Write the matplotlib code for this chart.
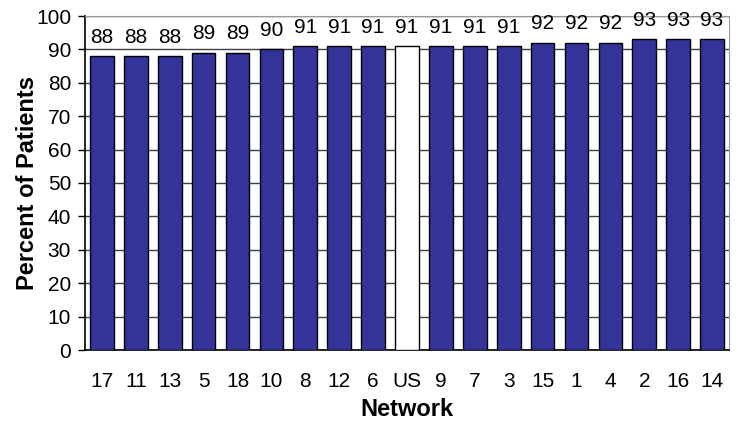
import matplotlib.pyplot as plt
import numpy as np

networks = ['17', '11', '13', '5', '18', '10', '8', '12', '6', 'US',
            '9', '7', '3', '15', '1', '4', '2', '16', '14']
percent = [88, 88, 88, 89, 89, 90, 91, 91, 91, 91,
           91, 91, 91, 92, 92, 92, 93, 93, 93]

plt.rcParams['font.family'] = ['Liberation Sans', 'DejaVu Sans']

fig = plt.figure(figsize=(7.37, 4.21), dpi=100)
ax = fig.add_axes([85 / 737, 1 - 350 / 421, 644 / 737, 334 / 421])

x = np.arange(len(networks))
colors = ['white' if n == 'US' else '#333399' for n in networks]
bars = ax.bar(x, percent, width=0.7, color=colors, edgecolor='black',
              linewidth=1, zorder=3)

# value on top of each bar
for xi, val in zip(x, percent):
    ax.text(xi, val + 4, str(val), ha='center', va='baseline', fontsize=15)

ax.set_xlim(-0.5, len(networks) - 0.5)
ax.set_ylim(0, 100)
ax.set_yticks(np.arange(0, 101, 10))
ax.set_xticks(x)
ax.set_xticklabels(networks)
ax.tick_params(axis='x', length=0, pad=16, labelsize=15)
ax.tick_params(axis='y', length=5, width=1, direction='out', pad=5, labelsize=15)

ax.yaxis.grid(True, color='#404040', linewidth=1, zorder=0)
ax.set_axisbelow(True)
for side in ['top', 'right']:
    ax.spines[side].set_color('#999999')
for side in ['left', 'bottom']:
    ax.spines[side].set_color('black')
    ax.spines[side].set_linewidth(1.2)

ax.set_ylabel('Percent of Patients', fontsize=17, fontweight='bold', labelpad=-2)
ax.set_xlabel('Network', fontsize=17, fontweight='bold', labelpad=5)

fig.savefig('out.png', dpi=100)
